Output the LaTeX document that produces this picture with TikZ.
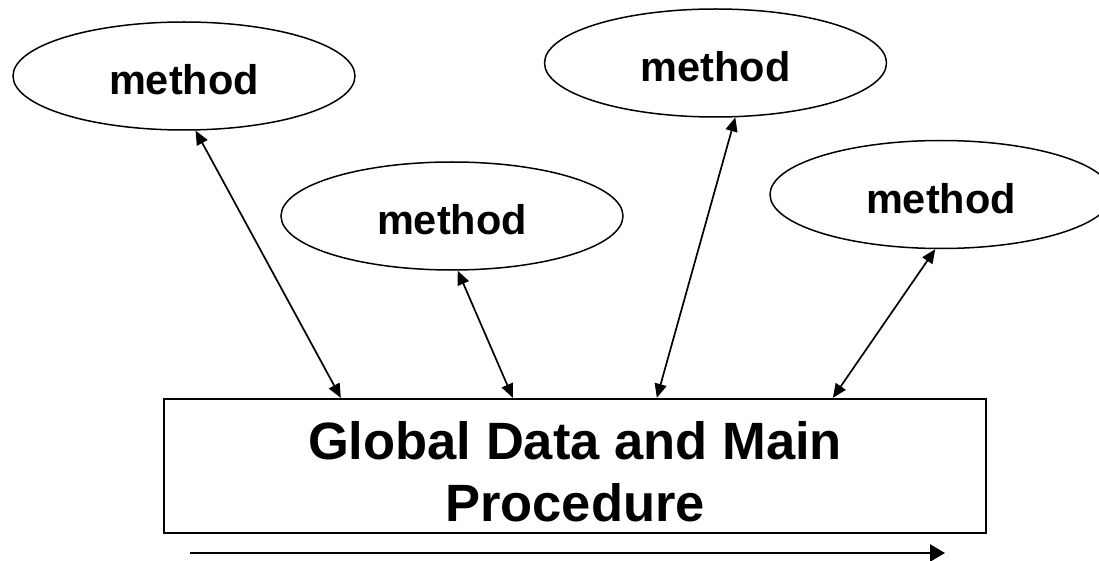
\documentclass[tikz,border=0pt]{standalone}
\usepackage{fontspec}
\setmainfont{Liberation Sans}
\usetikzlibrary{arrows.meta, shapes.geometric}

\begin{document}
\begin{tikzpicture}[x=1pt, y=-1pt,
  method/.style={ellipse, draw, line width=1.5pt, minimum width=342pt,
    minimum height=108pt, inner sep=0pt,
    font=\fontsize{41.5}{50}\selectfont\bfseries,
    text height=38pt, text depth=0pt},
  mainbox/.style={rectangle, draw, line width=2.3pt, minimum width=822pt,
    minimum height=134pt, inner sep=0pt},
  maintext/.style={align=center, inner sep=0pt,
    font=\fontsize{52.5}{62}\selectfont\bfseries},
  link/.style={line width=1.7pt,
    {Triangle[length=14pt,width=12pt]}-{Triangle[length=14pt,width=12pt]}},
  flow/.style={line width=2.5pt, -{Triangle[length=15pt,width=17pt]}}]

  \useasboundingbox (0,0) rectangle (1099,561);
  \clip (0,0) rectangle (1099,561);

  % the methods around the shared data
  \node[method] (m1) at (184,76)    {method};
  \node[method] (m2) at (452,216)   {method};
  \node[method] (m3) at (715.5,63)  {method};
  \node[method] (m4) at (941,194.5) {method};

  % global data and main procedure
  \node[mainbox] (main) at (575,466) {};
  \node[maintext] (maintxt) at (575,472) {Global Data and Main\\Procedure};

  % two-way access between each method and the global data
  \draw[link] (m1.-78)   -- ([xshift=178pt]main.north west);
  \draw[link] (m2.-84)   -- ([xshift=350pt]main.north west);
  \draw[link] (m3.-70)   -- ([xshift=494pt]main.north west);
  \draw[link] (m4.-96)   -- ([xshift=670pt]main.north west);

  % direction of control flow
  \coordinate (flowstart) at (190,553);
  \coordinate (flowend)   at (945,553);
  \draw[flow] (flowstart) -- (flowend);
\end{tikzpicture}
\end{document}
